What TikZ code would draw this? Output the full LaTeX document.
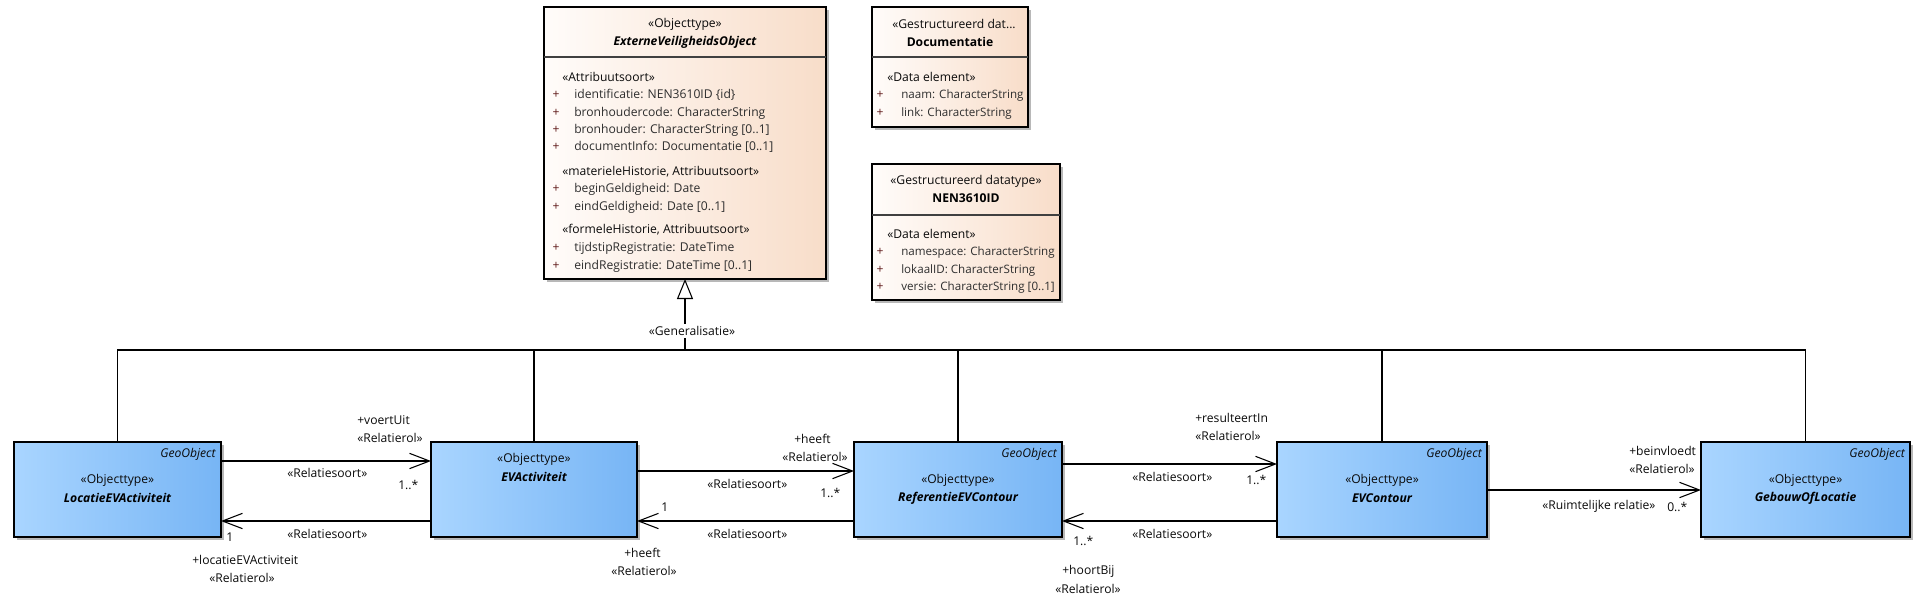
\documentclass[tikz,border=0pt]{standalone}
\usepackage{fontspec}
\setmainfont{Open Sans}
\usetikzlibrary{arrows.meta,shadows,fit}
\definecolor{bla}{HTML}{A9D5FF}
\definecolor{blb}{HTML}{77B5F5}
\definecolor{pca}{HTML}{FFFCFA}
\definecolor{pcb}{HTML}{F8DDC9}
\definecolor{attrc}{HTML}{2E2E2E}
\definecolor{plusc}{HTML}{5E1818}
\definecolor{txtc}{HTML}{0A0A0A}
\begin{document}
\begin{tikzpicture}[x=0.75pt,y=-0.75pt,
  cls/.style={draw=black, line width=1.1pt, inner sep=0pt, outer sep=0pt,
    drop shadow={shadow xshift=2.3pt, shadow yshift=-2.3pt, fill=black!28, opacity=1}},
  geo/.style={cls, left color=bla, right color=blb},
  dtp/.style={cls, left color=pca, right color=pcb},
  fnt/.style={font=\fontsize{9.1}{10}\selectfont},
  lbl/.style={fnt, inner sep=0pt, anchor=west, text=txtc},
  ctr/.style={fnt, inner sep=0pt, anchor=center, text=txtc},
  att/.style={fnt, inner sep=0pt, anchor=west, text=attrc},
  satt/.style={att, font=\fontsize{8.7}{10}\selectfont},
  pls/.style={fnt, inner sep=0pt, anchor=center, text=plusc},
  geot/.style={inner sep=0pt, anchor=east, text=txtc, font=\fontsize{9.1}{10}\selectfont\itshape},
  nm/.style={inner sep=0pt, anchor=center, text=black, font=\fontsize{9.1}{10}\selectfont\bfseries\itshape},
  nmb/.style={inner sep=0pt, anchor=center, text=black, font=\fontsize{9.1}{10}\selectfont\bfseries},
  conn/.style={line width=0.8pt},
  assoc/.style={conn, -{Straight Barb[length=15pt,width=11.5pt,line width=0.8pt]}},
  gen/.style={conn, -{Triangle[open, length=15pt, width=12pt, fill=white, line width=0.8pt]}}
]
\useasboundingbox (0,0) rectangle (1926,607);

% ---------- data type / object type boxes (top) ----------
\coordinate (e1) at (544,7); \coordinate (e2) at (826,279);
\node[dtp, fit=(e1)(e2)] (evo) {};
\coordinate (d1) at (872,7); \coordinate (d2) at (1028,127);
\node[dtp, fit=(d1)(d2)] (doc) {};
\coordinate (n1) at (872,164); \coordinate (n2) at (1060,300);
\node[dtp, fit=(n1)(n2)] (nen) {};

\coordinate (sep57) at (0,57);
\coordinate (sep215) at (0,215);
\draw[line width=0.8pt, black!75] (evo.west |- sep57) -- (evo.east |- sep57);
\draw[line width=0.8pt, black!75] (doc.west |- sep57) -- (doc.east |- sep57);
\draw[line width=0.8pt, black!75] (nen.west |- sep215) -- (nen.east |- sep215);

% ExterneVeiligheidsObject
\node[ctr] (evo-st) at (685,24) {«Objecttype»};
\node[nm] (evo-nm) at (685,42) {ExterneVeiligheidsObject};
\node[att, text=txtc] (evo-s1) at (562,77) {«Attribuutsoort»};
\node[pls] (evo-p1) at (556,95) {+}; \node[att] (evo-a1) at (574,95) {identificatie: NEN3610ID \{id\}};
\node[pls] (evo-p2) at (556,113) {+}; \node[att] (evo-a2) at (574,113) {bronhoudercode: CharacterString};
\node[pls] (evo-p3) at (556,130) {+}; \node[att] (evo-a3) at (574,130) {bronhouder: CharacterString [0..1]};
\node[pls] (evo-p4) at (556,147) {+}; \node[att] (evo-a4) at (574,147) {documentInfo: Documentatie [0..1]};
\node[att, text=txtc] (evo-s2) at (562,172) {«materieleHistorie, Attribuutsoort»};
\node[pls] (evo-p5) at (556,189) {+}; \node[att] (evo-a5) at (574,189) {beginGeldigheid: Date};
\node[pls] (evo-p6) at (556,207) {+}; \node[att] (evo-a6) at (574,207) {eindGeldigheid: Date [0..1]};
\node[att, text=txtc] (evo-s3) at (562,230) {«formeleHistorie, Attribuutsoort»};
\node[pls] (evo-p7) at (556,248) {+}; \node[att] (evo-a7) at (574,248) {tijdstipRegistratie: DateTime};
\node[pls] (evo-p8) at (556,266) {+}; \node[att] (evo-a8) at (574,266) {eindRegistratie: DateTime [0..1]};

% Documentatie
\node[ctr] (doc-st) at (954,24) {«Gestructureerd dat...};
\node[nmb] (doc-nm) at (950,42) {Documentatie};
\node[att, text=txtc] (doc-s1) at (887,77) {«Data element»};
\node[pls] (doc-p1) at (880,95) {+}; \node[satt] (doc-a1) at (901,95) {naam: CharacterString};
\node[pls] (doc-p2) at (880,113) {+}; \node[satt] (doc-a2) at (901,113) {link: CharacterString};

% NEN3610ID
\node[ctr] (nen-st) at (966,181) {«Gestructureerd datatype»};
\node[nmb] (nen-nm) at (966,198) {NEN3610ID};
\node[att, text=txtc] (nen-s1) at (887,234) {«Data element»};
\node[pls] (nen-p1) at (880,252) {+}; \node[satt] (nen-a1) at (901,252) {namespace: CharacterString};
\node[pls] (nen-p2) at (880,270) {+}; \node[satt] (nen-a2) at (901,270) {lokaalID: CharacterString};
\node[pls] (nen-p3) at (880,287) {+}; \node[satt] (nen-a3) at (901,287) {versie: CharacterString [0..1]};

% ---------- object types (bottom) ----------
\coordinate (l1) at (14,442);   \coordinate (l2) at (221,537);
\coordinate (a1) at (431,442);  \coordinate (a2) at (637,537);
\coordinate (r1) at (854,442);  \coordinate (r2) at (1062,537);
\coordinate (c1) at (1277,442); \coordinate (c2) at (1487,537);
\coordinate (g1) at (1701,442); \coordinate (g2) at (1910,537);
\node[geo, fit=(l1)(l2)] (loc) {};
\node[geo, fit=(a1)(a2)] (act) {};
\node[geo, fit=(r1)(r2)] (ref) {};
\node[geo, fit=(c1)(c2)] (evc) {};
\node[geo, fit=(g1)(g2)] (geb) {};

\node[geot] (loc-g) at (216,454) {GeoObject};
\node[ctr] (loc-st) at (117.5,480) {«Objecttype»};
\node[nm] (loc-nm) at (117.5,498) {LocatieEVActiviteit};

\node[ctr] (act-st) at (534,459) {«Objecttype»};
\node[nm] (act-nm) at (534,477) {EVActiviteit};

\node[geot] (ref-g) at (1057,454) {GeoObject};
\node[ctr] (ref-st) at (958,480) {«Objecttype»};
\node[nm] (ref-nm) at (958,498) {ReferentieEVContour};

\node[geot] (evc-g) at (1482,454) {GeoObject};
\node[ctr] (evc-st) at (1382,480) {«Objecttype»};
\node[nm] (evc-nm) at (1382,498) {EVContour};

\node[geot] (geb-g) at (1905,454) {GeoObject};
\node[ctr] (geb-st) at (1805.5,480) {«Objecttype»};
\node[nm] (geb-nm) at (1805.5,498) {GebouwOfLocatie};

% ---------- generalisation tree ----------
\coordinate (bar) at (685,350);
\draw[gen] (bar) -- (evo.south);
\node[ctr, fill=white, inner sep=1.5pt] (genl) at (692,331) {«Generalisatie»};
\draw[conn] (loc.north) |- (bar);
\draw[conn] (geb.north) |- (bar);
\draw[conn] (act.north) -- (act.north |- bar);
\draw[conn] (ref.north) -- (ref.north |- bar);
\draw[conn] (evc.north) -- (evc.north |- bar);

% ---------- associations ----------
\coordinate (h461) at (0,461);
\coordinate (h471) at (0,471);
\coordinate (h464) at (0,464);
\coordinate (h521) at (0,521);
\coordinate (h490) at (0,490);

\draw[assoc] (loc.east |- h461) -- (act.west |- h461);
\draw[assoc] (act.west |- h521) -- (loc.east |- h521);
\draw[assoc] (act.east |- h471) -- (ref.west |- h471);
\draw[assoc] (ref.west |- h521) -- (act.east |- h521);
\draw[assoc] (ref.east |- h464) -- (evc.west |- h464);
\draw[assoc] (evc.west |- h521) -- (ref.east |- h521);
\draw[assoc] (evc.east |- h490) -- (geb.west |- h490);

% labels Loc <-> Act
\node[lbl] (q1) at (357,420) {+voertUit};
\node[lbl] (q2) at (357,438) {«Relatierol»};
\node[lbl] (q3) at (287,473) {«Relatiesoort»};
\node[lbl] (q4) at (398,485) {1..*};
\node[lbl] (q5) at (226,537) {1};
\node[lbl] (q6) at (287,534) {«Relatiesoort»};
\node[lbl] (q7) at (192,560) {+locatieEVActiviteit};
\node[lbl] (q8) at (209,578) {«Relatierol»};

% labels Act <-> Ref
\node[lbl] (w1) at (794,439) {+heeft};
\node[lbl] (w2) at (782,457) {«Relatierol»};
\node[lbl] (w3) at (707,484) {«Relatiesoort»};
\node[lbl] (w4) at (820,493) {1..*};
\node[lbl] (w5) at (661,507) {1};
\node[lbl] (w6) at (707,534) {«Relatiesoort»};
\node[lbl] (w7) at (624,553) {+heeft};
\node[lbl] (w8) at (611,571) {«Relatierol»};

% labels Ref <-> EVC
\node[lbl] (e1l) at (1195,418) {+resulteertIn};
\node[lbl] (e2l) at (1195,436) {«Relatierol»};
\node[lbl] (e3l) at (1132,477) {«Relatiesoort»};
\node[lbl] (e4l) at (1246,480) {1..*};
\node[lbl] (e5l) at (1073,541) {1..*};
\node[lbl] (e6l) at (1132,534) {«Relatiesoort»};
\node[lbl] (e7l) at (1062,571) {+hoortBij};
\node[lbl] (e8l) at (1055,589) {«Relatierol»};

% labels EVC -> Geb
\node[lbl] (r1l) at (1629,451) {+beinvloedt};
\node[lbl] (r2l) at (1629,469) {«Relatierol»};
\node[lbl] (r3l) at (1542,506) {«Ruimtelijke relatie»};
\node[lbl] (r4l) at (1667,507) {0..*};
\end{tikzpicture}
\end{document}
